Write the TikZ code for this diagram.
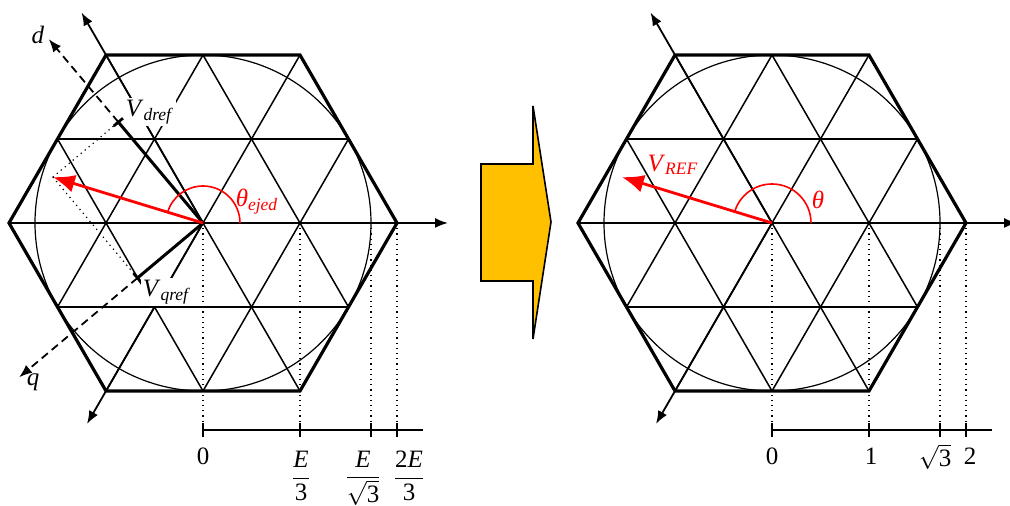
\documentclass[tikz,border=0pt]{standalone}
\usepackage{fontspec}
\setmainfont{Liberation Serif}
\usetikzlibrary{arrows.meta,calc}
\definecolor{arrowyellow}{HTML}{FFC000}
\begin{document}
\begin{tikzpicture}[x=0.5pt,y=0.5pt,
  hexline/.style={line width=1.6pt,line join=miter},
  gridline/.style={line width=0.75pt},
  circline/.style={line width=0.6pt},
  axisarrow/.style={line width=0.9pt,-{Latex[length=6.5pt,width=5pt]}},
  dqaxis/.style={line width=0.9pt,dash pattern=on 4pt off 2.5pt,-{Latex[length=6.5pt,width=5pt]}},
  projline/.style={line width=1.5pt},
  dotline/.style={line width=0.6pt,dotted},
  vecred/.style={red,line width=1.4pt,-{Latex[length=11pt,width=9pt]}},
  arcred/.style={red,line width=0.8pt},
  tickmark/.style={line width=1.4pt},
  lbl/.style={font=\fontsize{12.5}{14}\selectfont,inner sep=1pt},
  redlbl/.style={lbl,text=red},
]
\useasboundingbox (0,0) rectangle (1010,-506);

% common parts of both hexagon diagrams
\foreach \cx/\nm in {203/L,772/R}{
\begin{scope}[shift={(\cx,-223)}]
  \coordinate (\nm c) at (0,0);
  \foreach \a in {0,60,120}{
    \draw[gridline,rotate=\a] (-145.5,84) -- (145.5,84) (-194,0) -- (194,0) (-145.5,-84) -- (145.5,-84);
  }
  \draw[circline] (\nm c) circle (168);
  \draw[hexline] (0:194) -- (60:194) -- (120:194) -- (180:194) -- (240:194) -- (300:194) -- cycle;
  \coordinate (\nm h) at (0:245);
  \coordinate (\nm b) at (120:243);
  \coordinate (\nm a) at (240:232);
  \draw[axisarrow] (\nm c) -- (\nm h);
  \draw[axisarrow] (\nm c) -- (\nm b);
  \draw[axisarrow] (\nm c) -- (\nm a);
  \coordinate (\nm p1) at (97,0);
  \coordinate (\nm p2) at (168,0);
  \coordinate (\nm p3) at (194,0);
  \coordinate (\nm f0) at (0,-207);
  \coordinate (\nm f1) at (97,-207);
  \coordinate (\nm f2) at (168,-207);
  \coordinate (\nm f3) at (194,-207);
  \coordinate (\nm fe) at (220,-207);
  \draw[dotline] (\nm c) -- (\nm f0);
  \draw[dotline] (\nm p1) -- (\nm f1);
  \draw[dotline] (\nm p2) -- (\nm f2);
  \draw[dotline] (\nm p3) -- (\nm f3);
  \draw[line width=0.75pt] (\nm f0) -- (\nm fe);
  \foreach \t in {0,97,168,194}{
    \draw[tickmark] (\t,-200) -- (\t,-214);
  }
  \coordinate (\nm tip) at (163:157);
\end{scope}
}

% d-q projection on the left diagram
\coordinate (Ld) at ($(Lc)+(130:131.7)$);
\coordinate (Lq) at ($(Lc)+(220:85.5)$);
\coordinate (Ldend) at ($(Lc)+(130:240)$);
\coordinate (Lqend) at ($(Lc)+(220:240)$);
\draw[dqaxis] (Ld) -- (Ldend);
\draw[dqaxis] (Lq) -- (Lqend);
\draw[dotline] (Ltip) -- (Ld);
\draw[dotline] (Ltip) -- (Lq);
\draw[projline] (Lc) -- (Ld);
\draw[projline] (Lc) -- (Lq);
\draw[tickmark] ($(Ld)+(40:6)$) -- ($(Ld)+(220:6)$);
\draw[tickmark] ($(Lq)+(130:6)$) -- ($(Lq)+(310:6)$);

% red reference vectors and angles
\draw[vecred] (Lc) -- (Ltip);
\draw[vecred] (Rc) -- (Rtip);
\draw[arcred] ($(Lc)+(37,0)$) arc[start angle=0,end angle=163,radius=37];
\draw[arcred] ($(Rc)+(39,0)$) arc[start angle=0,end angle=163,radius=39];

% labels left
\node[lbl] (dlab) at ($(Lc)+(-165,188)$) {\textit{d}};
\node[lbl] (qlab) at ($(Lc)+(-170,-159)$) {\textit{q}};
\node[lbl,fill=white] (vdlab) at ($(Lc)+(-53,111)$) {\textit{V}\textsubscript{\textit{dref}}};
\node[lbl,fill=white] (vqlab) at ($(Lc)+(-36,-69)$) {\textit{V}\textsubscript{\textit{qref}}};
\node[redlbl] (thLlab) at ($(Lc)+(54,21)$) {\textit{θ}\textsubscript{\textit{ejed}}};
\node[lbl] (l0) at ($(Lc)+(0,-233)$) {0};
\node[lbl] (l1) at ($(Lc)+(98,-253)$) {$\displaystyle\frac{\textit{E}}{\mbox{3}}$};
\node[lbl] (l2) at ($(Lc)+(160,-255)$) {$\displaystyle\frac{\textit{E}}{\sqrt{\mbox{3}}}$};
\node[lbl] (l3) at ($(Lc)+(206,-253)$) {$\displaystyle\frac{\mbox{2}\textit{E}}{\mbox{3}}$};

% labels right
\node[redlbl] (thRlab) at ($(Rc)+(46,23)$) {\textit{θ}};
\node[redlbl] (vrlab) at ($(Rc)+(-99,58)$) {\textit{V}\textsubscript{\textit{REF}}};
\node[lbl] (r0) at ($(Rc)+(0,-233)$) {0};
\node[lbl] (r1) at ($(Rc)+(99,-233)$) {1};
\node[lbl] (r2) at ($(Rc)+(163,-234)$) {$\sqrt{\mbox{3}}$};
\node[lbl] (r3) at ($(Rc)+(198,-233)$) {2};

% transition arrow
\draw[fill=arrowyellow,line width=0.8pt,line join=miter]
  (481,-164) -- (533,-164) -- (533,-106) -- (551,-222) -- (533,-339) -- (533,-281) -- (481,-281) -- cycle;
\end{tikzpicture}
\end{document}
